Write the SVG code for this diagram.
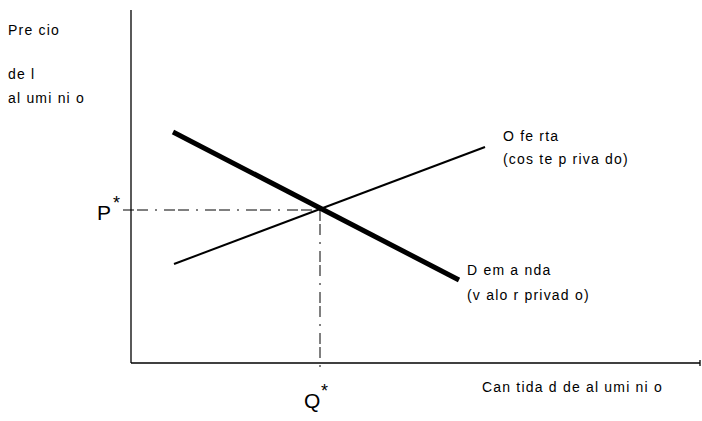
<svg xmlns="http://www.w3.org/2000/svg" width="702" height="421" viewBox="0 0 702 421">
<style>
.t{font-family:"Liberation Sans","DejaVu Sans",sans-serif;font-size:14px;letter-spacing:1.2px;fill:#000}
.big{font-family:"Liberation Sans","DejaVu Sans",sans-serif;font-size:21px;fill:#000}
.ast{font-family:"Liberation Sans","DejaVu Sans",sans-serif;font-size:18px;fill:#000}
.axis{stroke:#000;stroke-width:1.3;fill:none}
.dash{stroke:#000;stroke-width:1;fill:none;stroke-dasharray:11 3 11 7 2 7}
</style>
<rect width="702" height="421" fill="#fff"/>
<g id="axes">
<line class="axis" x1="131" y1="10" x2="131" y2="363"/>
<line class="axis" x1="131" y1="363" x2="700" y2="363"/>
<line class="axis" x1="700" y1="360" x2="700" y2="366"/>
</g>
<g id="connectors">
<line class="dash" x1="123" y1="210" x2="320" y2="210"/>
<line class="dash" x1="320" y1="210" x2="320" y2="372"/>
</g>
<g id="demanda">
<line x1="173" y1="132" x2="459" y2="280" stroke="#000" stroke-width="5"/>
<text class="t" x="467" y="275">D em a nda</text>
<text class="t" x="467" y="300">(v alo r privad o)</text>
</g>
<g id="oferta">
<line x1="174" y1="264" x2="485" y2="147" stroke="#000" stroke-width="2"/>
<text class="t" x="503" y="141">O fe rta</text>
<text class="t" x="503" y="164">(cos te p riva do)</text>
</g>
<g id="ylabel">
<text class="t" x="8" y="35">Pre cio</text>
<text class="t" x="8" y="79">de l</text>
<text class="t" x="8" y="103">al umi ni o</text>
</g>
<g id="xlabel">
<text class="t" x="482" y="392">Can tida d de al umi ni o</text>
</g>
<g id="pstar">
<text class="big" x="97" y="220">P</text>
<text class="ast" x="113" y="209">*</text>
</g>
<g id="qstar">
<text class="big" x="304" y="408">Q</text>
<text class="ast" x="321" y="397">*</text>
</g>
</svg>
